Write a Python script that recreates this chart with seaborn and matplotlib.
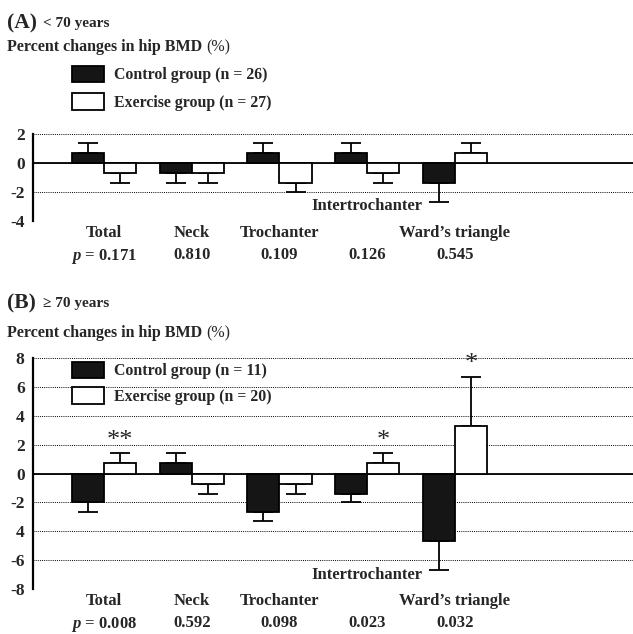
import numpy as np
import pandas as pd
import matplotlib
matplotlib.use('Agg')
import matplotlib.pyplot as plt
import seaborn as sns
from matplotlib.patches import Patch

# data
sites = ['Total', 'Neck', 'Trochanter', 'Intertrochanter', 'Ward\u2019s triangle']
groups = ['Control group', 'Exercise group']

# (A) < 70 years
ctrl_a = [0.7, -0.7, 0.7, 0.7, -1.4]
ctrl_a_se = [0.7, 0.7, 0.7, 0.7, 1.3]
exer_a = [-0.7, -0.7, -1.4, -0.7, 0.7]
exer_a_se = [0.7, 0.7, 0.6, 0.7, 0.7]
n_a = [26, 27]
p_a = ['0.171', '0.810', '0.109', '0.126', '0.545']
sig_a = ['', '', '', '', '']

# (B) >= 70 years
ctrl_b = [-2.0, 0.7, -2.7, -1.4, -4.7]
ctrl_b_se = [0.7, 0.7, 0.6, 0.6, 2.0]
exer_b = [0.7, -0.7, -0.7, 0.7, 3.3]
exer_b_se = [0.7, 0.7, 0.7, 0.7, 3.4]
n_b = [11, 20]
p_b = ['0.008', '0.592', '0.098', '0.023', '0.032']
sig_b = ['**', '', '', '*', '*']

yticks_a = [2, 0, -2, -4]
ylabels_a = ['2', '0', '-2', '-4']
yticks_b = [8, 6, 4, 2, 0, -2, -4, -6, -8]
ylabels_b = ['8', '6', '4', '2', '0', '-2', '4', '-6', '-8']

bar_colors = ['#151515', 'white']

sns.set_style('white')
plt.rcParams['font.family'] = ['Liberation Serif', 'DejaVu Serif']
plt.rcParams['font.weight'] = 'bold'
plt.rcParams['mathtext.fontset'] = 'custom'
plt.rcParams['mathtext.rm'] = 'Liberation Serif:bold'
plt.rcParams['mathtext.it'] = 'Liberation Serif:italic:bold'

W, H = 633, 634
fig = plt.figure(figsize=(W / 100, H / 100), dpi=100)


def px_box(left, top, right, bottom):
    return [left / W, 1 - bottom / H, (right - left) / W, (bottom - top) / H]


def draw_panel(ax, ctrl, ctrl_se, exer, exer_se, n, pvals, sig, ylim,
               yticks, ylabels, inter_y, legend_top, legend_gap):
    labels = [f'{g} (n = {k})' for g, k in zip(groups, n)]
    df = pd.DataFrame({
        'site': sites * 2,
        'group': [lab for lab in labels for _ in sites],
        'change': ctrl + exer,
    })
    sns.barplot(data=df, x='site', y='change', hue='group', order=sites,
                hue_order=labels, palette=bar_colors, edgecolor='black',
                linewidth=1.3, width=0.73, gap=0, errorbar=None,
                legend=False, ax=ax, zorder=3)

    # one-sided error bars (away from zero)
    for bars, vals, errs in zip(ax.containers, [ctrl, exer], [ctrl_se, exer_se]):
        xs = [b.get_x() + b.get_width() / 2 for b in bars]
        lo = [e if v < 0 else 0 for v, e in zip(vals, errs)]
        hi = [e if v > 0 else 0 for v, e in zip(vals, errs)]
        ax.errorbar(xs, vals, yerr=[lo, hi], fmt='none', ecolor='black',
                    elinewidth=1.3, capsize=7.2, capthick=1.3, zorder=2)

    # significance marks above the exercise bars
    ex_bars = ax.containers[1]
    for b, v, e, mark in zip(ex_bars, exer, exer_se, sig):
        if mark:
            ax.text(b.get_x() + b.get_width() / 2, v + e + 0.85, mark,
                    ha='center', va='center', fontsize=19, fontweight='normal')

    ax.set_ylim(*ylim)
    ax.set_xlim(-0.81, 6.03)
    ax.set_yticks(yticks)
    ax.set_yticklabels(ylabels, fontsize=12.5, fontweight='bold')
    ax.yaxis.grid(True, linestyle=(0, (1, 1.2)), color='black', linewidth=0.7)
    ax.xaxis.grid(False)
    ax.set_axisbelow(True)
    ax.axhline(0, color='black', linewidth=1.3, zorder=1)
    for side in ['top', 'right', 'bottom']:
        ax.spines[side].set_visible(False)
    ax.spines['left'].set_linewidth(1.6)
    ax.spines['left'].set_color('black')
    ax.tick_params(axis='y', length=0, pad=6)
    ax.tick_params(axis='x', length=0, pad=3)

    names = ['' if s == 'Intertrochanter' else s for s in sites]
    ptxt = ['$p$ = ' + pvals[0]] + pvals[1:]
    ax.set_xticks(range(len(sites)))
    ax.set_xticklabels([f'{a}\n{b}' for a, b in zip(names, ptxt)],
                       fontsize=12, fontweight='bold', linespacing=1.45)
    ax.set_xlabel('')
    ax.set_ylabel('')
    ax.text(3, inter_y, 'Intertrochanter', ha='center', va='center',
            fontsize=12, fontweight='bold')

    handles = [Patch(facecolor=c, edgecolor='black', linewidth=1.3) for c in bar_colors]
    ax.legend(handles, labels, loc='upper left',
              bbox_to_anchor=(72 / W, 1 - legend_top / H),
              bbox_transform=fig.transFigure, frameon=False, borderpad=0,
              borderaxespad=0, handlelength=2.04, handleheight=1.2,
              handletextpad=0.6, labelspacing=legend_gap,
              prop={'family': 'Liberation Serif', 'weight': 'bold', 'size': 11.4})


def header(letter, age, y_letter, y_sub):
    renderer = fig.canvas.get_renderer()
    fig.text(7 / W, 1 - y_letter / H, letter, fontsize=15.5, fontweight='bold',
             va='center', ha='left')
    fig.text(43 / W, 1 - y_letter / H, age, fontsize=11, fontweight='bold',
             va='center', ha='left')
    t = fig.text(7 / W, 1 - y_sub / H, 'Percent changes in hip BMD ',
                 fontsize=11.5, fontweight='bold', va='center', ha='left')
    bb = t.get_window_extent(renderer=renderer)
    fig.text(bb.x1 / W, 1 - y_sub / H, '(%)', fontsize=11.5,
             fontweight='normal', va='center', ha='left')


ax_a = fig.add_axes(px_box(33, 134, 633, 221))
draw_panel(ax_a, ctrl_a, ctrl_a_se, exer_a, exer_a_se, n_a, p_a, sig_a,
           (-4, 2), yticks_a, ylabels_a, -3.0, 66, 0.62)
header('(A)', '< 70 years', 23, 47)

ax_b = fig.add_axes(px_box(33, 358, 633, 589))
draw_panel(ax_b, ctrl_b, ctrl_b_se, exer_b, exer_b_se, n_b, p_b, sig_b,
           (-8, 8), yticks_b, ylabels_b, -7.0, 362, 0.5)
header('(B)', '\u2265 70 years', 303, 333)

fig.savefig('out.png', dpi=100)
